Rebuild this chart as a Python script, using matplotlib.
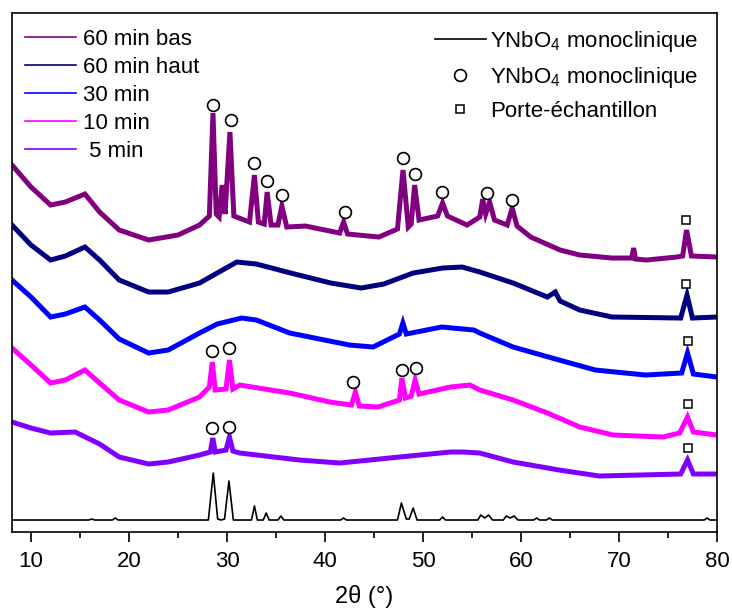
import matplotlib
matplotlib.use("Agg")
import matplotlib.pyplot as plt
from matplotlib.lines import Line2D
from matplotlib.ticker import MultipleLocator

plt.rcParams["font.family"] = ["Liberation Sans", "DejaVu Sans"]
plt.rcParams["mathtext.fontset"] = "custom"
plt.rcParams["mathtext.rm"] = "Liberation Sans"
plt.rcParams["mathtext.it"] = "Liberation Sans"

# --- data (2theta in degrees, intensity in arbitrary units) ---
tt_60bas = [8.06, 10.0, 12.0, 13.5, 15.5, 17.0, 19.0, 22.0, 25.0, 27.2, 28.2, 28.57, 28.9, 29.2, 29.5,
            29.8, 30.3, 30.7, 32.3, 32.8, 33.2, 33.8, 34.1, 34.5, 35.2, 35.6, 36.1, 38.0, 41.5, 41.9,
            42.3, 45.5, 47.4, 47.96, 48.5, 48.8, 49.15, 49.6, 51.5, 52.0, 52.5, 54.5, 55.8, 56.1,
            56.4, 56.8, 57.3, 58.6, 59.1, 59.6, 61.0, 64.0, 66.0, 69.3, 71.3, 71.5, 71.7, 72.8,
            75.9, 76.5, 76.9, 77.4, 80.0]
i_60bas = [367, 345, 327, 330, 338, 320, 302, 292, 297, 307, 316, 419, 318, 315, 347,
           318, 400, 316, 310, 357, 310, 308, 340, 307, 307, 326, 305, 306, 299, 310,
           298, 295, 303, 362, 305, 308, 347, 312, 316, 329, 316, 307, 315, 333,
           318, 330, 312, 307, 324, 306, 295, 282, 277, 274, 274, 284, 273, 272,
           275, 276, 302, 276, 275]

tt_60haut = [8.06, 10.0, 12.0, 13.5, 15.5, 17.0, 19.0, 22.0, 24.0, 27.2, 29.0, 31.0, 33.0, 36.5,
             40.6, 43.7, 46.0, 49.0, 52.0, 54.0, 55.8, 59.2, 62.7, 63.5, 64.0, 66.0, 69.3, 76.3,
             76.95, 77.5, 80.0]
i_60haut = [307, 287, 272, 276, 285, 272, 252, 240, 240, 249, 259, 270, 268, 259,
            249, 244, 248, 259, 264, 265, 260, 249, 235, 240, 231, 222, 215, 214,
            237, 214, 215]

tt_30 = [8.06, 10.0, 12.0, 13.5, 15.5, 17.0, 19.0, 22.0, 24.0, 27.2, 29.0, 31.5, 33.0, 36.4,
         42.5, 44.9, 47.6, 47.95, 48.3, 51.9, 55.2, 55.8, 59.2, 63.9, 67.6, 72.7, 76.4, 77.0,
         77.6, 80.0]
i_30 = [252, 235, 215, 218, 225, 212, 193, 179, 182, 199, 208, 214, 212, 199,
        187, 185, 198, 209, 198, 205, 202, 199, 185, 172, 162, 157, 159, 179,
        158, 155]

tt_10 = [8.06, 10.0, 12.0, 13.5, 15.5, 17.0, 19.0, 22.0, 24.0, 27.2, 28.2, 28.5, 28.8, 29.9,
         30.25, 30.6, 31.3, 36.4, 40.5, 42.7, 43.1, 43.5, 45.4, 47.6, 47.85, 48.2, 48.8, 49.2,
         49.6, 52.8, 54.8, 55.8, 59.2, 62.7, 66.0, 69.4, 74.5, 76.2, 77.0, 77.6, 80.0]
i_10 = [184, 167, 149, 152, 162, 149, 132, 120, 122, 135, 145, 170, 142, 143,
        172, 143, 147, 139, 130, 127, 140, 126, 125, 132, 154, 134, 136, 152,
        138, 145, 147, 142, 132, 119, 105, 97, 95, 99, 115, 100, 97]

tt_5 = [8.06, 10.0, 12.0, 14.5, 17.0, 19.0, 22.0, 24.0, 27.2, 28.3, 28.55, 28.8, 29.9, 30.25,
        30.6, 31.3, 37.4, 41.5, 47.6, 52.8, 54.1, 55.8, 59.2, 63.9, 68.0, 76.3, 77.0, 77.6, 80.0]
i_5 = [110, 104, 99, 100, 88, 75, 68, 70, 77, 80, 94, 80, 82, 95,
       81, 79, 72, 69, 75, 80, 80, 79, 70, 62, 56, 58, 72, 58, 58]

tt_ref = [8.06, 15.9, 16.2, 16.5, 18.3, 18.6, 18.9, 28.1, 28.6, 29.05, 29.4, 29.75, 30.2, 30.65,
          32.5, 32.8, 33.1, 33.7, 34.0, 34.3, 35.2, 35.5, 35.8, 41.6, 41.9, 42.2, 47.4, 47.8,
          48.3, 48.6, 49.0, 49.4, 51.7, 52.0, 52.3, 55.6, 55.9, 56.3, 56.7, 57.1, 58.2, 58.5,
          58.9, 59.3, 59.7, 61.3, 61.6, 61.9, 62.6, 62.9, 63.2, 78.7, 79.0, 79.3, 80.0]
i_ref = [12, 12, 13, 12, 12, 14, 12, 12, 59, 13, 12, 13, 51, 12,
         12, 26, 12, 12, 19, 12, 12, 16, 12, 12, 14, 12, 12, 29,
         13, 13, 24, 12, 12, 15, 12, 12, 17, 14, 17, 12, 12, 16,
         14, 16, 12, 12, 14, 12, 12, 14, 12, 12, 14, 12, 12]

series = [
    ("60 min bas", tt_60bas, i_60bas, "#800080"),
    ("60 min haut", tt_60haut, i_60haut, "#000080"),
    ("30 min", tt_30, i_30, "#0000ff"),
    ("10 min", tt_10, i_10, "#ff00ff"),
    (" 5 min", tt_5, i_5, "#8000ff"),
]

# peak markers: open circles = YNbO4 monoclinique, squares = sample holder
circ_tt = [28.57, 30.41, 32.76, 34.08, 35.61, 42.04, 47.96, 49.18, 51.94, 56.53, 59.08,
           28.47, 30.20, 42.86, 47.86, 49.29, 28.47, 30.20]
circ_i = [427, 412, 369, 351, 337, 320, 374, 358, 340, 339, 332,
          181, 184, 150, 162, 164, 104, 105]
sq_tt = [76.84, 76.84, 77.0, 77.04, 77.04]
sq_i = [312, 248, 191, 128, 84]

fig = plt.figure(figsize=(7.32, 6.12), dpi=100)
ax = fig.add_axes([0.0164, 0.1307, 0.963, 0.848])

handles = []
for label, x, y, c in series:
    ax.plot(x, y, color=c, lw=3.6, solid_joinstyle="miter")
    handles.append(Line2D([], [], color=c, lw=1.2, label=label))
ax.plot(tt_ref, i_ref, color="black", lw=1.2)

ax.plot(circ_tt, circ_i, "o", ms=8.5, mfc="white", mec="black", mew=1.2, ls="none")
ax.plot(sq_tt, sq_i, "s", ms=6.3, mfc="white", mec="black", mew=1.1, ls="none")

ax.set_xlim(8.06, 80)
ax.set_ylim(0, 519)
ax.xaxis.set_major_locator(MultipleLocator(10))
ax.xaxis.set_minor_locator(MultipleLocator(5))
ax.tick_params(axis="x", which="major", direction="out", length=7, width=1.2, labelsize=16, pad=7)
ax.tick_params(axis="x", which="minor", direction="out", length=4, width=1.2)
ax.tick_params(axis="y", left=False, labelleft=False)
for s in ax.spines.values():
    s.set_linewidth(1.2)
ax.set_xlabel("2θ (°)", fontsize=17, labelpad=9)

leg1 = ax.legend(handles=handles, loc="upper left", frameon=False, fontsize=16,
                 handlelength=2.3, handletextpad=0.3, labelspacing=0.32,
                 borderaxespad=0.3, bbox_to_anchor=(-0.004, 1.0))
ax.add_artist(leg1)

h2 = [Line2D([], [], color="black", lw=1.2),
      Line2D([], [], marker="o", ms=8.5, mfc="white", mec="black", mew=1.2, ls="none"),
      Line2D([], [], marker="s", ms=6.3, mfc="white", mec="black", mew=1.1, ls="none")]
ax.legend(h2, ["YNbO$_4$ monoclinique", "YNbO$_4$ monoclinique", "Porte-échantillon"],
          loc="upper right", frameon=False, fontsize=16, handlelength=2.3,
          handletextpad=0.2, labelspacing=0.5, borderaxespad=0.3,
          bbox_to_anchor=(0.996, 1.0))

fig.savefig("out.png", dpi=100)
